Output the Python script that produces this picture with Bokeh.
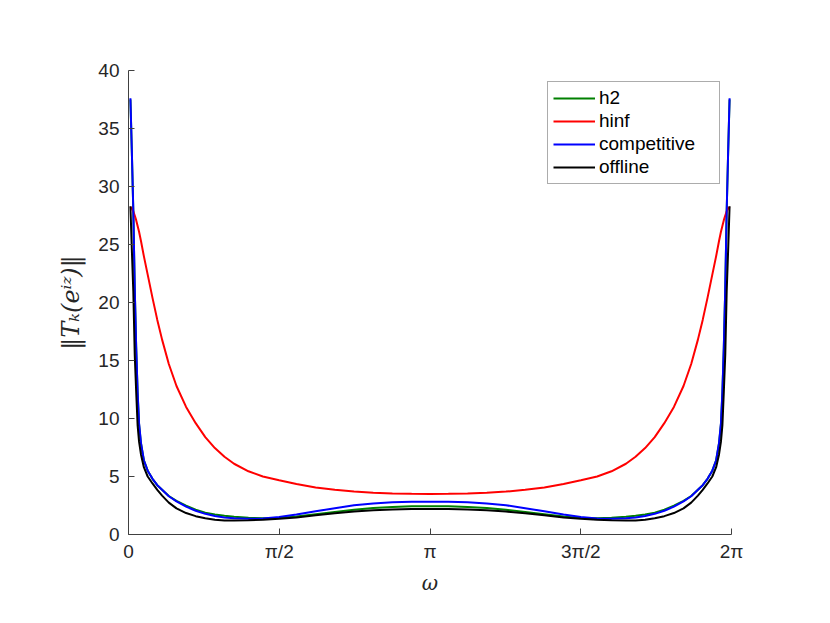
from math import pi
from bokeh.plotting import figure
from bokeh.models import Range1d, FixedTicker, Legend, LegendItem
from bokeh.embed import file_html
from bokeh.resources import INLINE

# frequency grid (rad)
omega = [0.02, 0.035, 0.05, 0.065, 0.08, 0.095, 0.11, 0.13, 0.16, 0.20, 0.25, 0.30,
         0.35, 0.42, 0.50, 0.60, 0.70, 0.80, 0.90, 1.0, 1.1, 1.25, 1.4, 1.57, 1.75,
         1.95, 2.15, 2.35, 2.55, 2.75, 2.95, 3.1416,
         3.3332, 3.5332, 3.7332, 3.9332, 4.1332, 4.3332, 4.5332, 4.7132, 4.8832,
         5.0332, 5.1832, 5.2832, 5.3832, 5.4832, 5.5832, 5.6832, 5.7832, 5.8632,
         5.9332, 5.9832, 6.0332, 6.0832, 6.1232, 6.1532, 6.1732, 6.1882, 6.2032,
         6.2182, 6.2332, 6.2482, 6.2632]

h2 = [37.5, 32.9, 27.9, 21.2, 16.1, 12.2, 9.5, 7.85, 6.4, 5.5, 4.8, 4.25, 3.85, 3.32,
      2.9, 2.48, 2.14, 1.88, 1.72, 1.61, 1.52, 1.44, 1.4, 1.42, 1.55, 1.75, 1.95, 2.13,
      2.28, 2.38, 2.43, 2.44,
      2.43, 2.38, 2.28, 2.13, 1.95, 1.75, 1.55, 1.42, 1.4, 1.44, 1.52, 1.61, 1.72,
      1.88, 2.14, 2.48, 2.9, 3.32, 3.85, 4.25, 4.8, 5.5, 6.4, 7.85, 9.5, 12.2, 16.1,
      21.2, 27.9, 32.9, 37.5]

hinf = [28.25, 28.1, 27.85, 27.5, 27.1, 26.6, 26.1, 25.3, 24.0, 22.4, 20.4, 18.5, 16.8,
        14.7, 12.8, 11.0, 9.6, 8.4, 7.45, 6.7, 6.1, 5.45, 5.0, 4.68, 4.35, 4.05, 3.85,
        3.7, 3.6, 3.54, 3.51, 3.5,
        3.51, 3.54, 3.6, 3.7, 3.85, 4.05, 4.35, 4.68, 5.0, 5.45, 6.1, 6.7, 7.45, 8.4,
        9.6, 11.0, 12.8, 14.7, 16.8, 18.5, 20.4, 22.4, 24.0, 25.3, 26.1, 26.6, 27.1,
        27.5, 27.85, 28.1, 28.25]

competitive = [37.6, 33.0, 28.0, 21.3, 16.2, 12.3, 9.6, 7.9, 6.4, 5.5, 4.8, 4.25, 3.85,
               3.3, 2.85, 2.4, 2.05, 1.78, 1.6, 1.47, 1.4, 1.36, 1.37, 1.5, 1.72, 2.0,
               2.27, 2.52, 2.68, 2.78, 2.82, 2.83,
               2.82, 2.78, 2.68, 2.52, 2.27, 2.0, 1.72, 1.5, 1.37, 1.36, 1.4, 1.47, 1.6,
               1.78, 2.05, 2.4, 2.85, 3.3, 3.85, 4.25, 4.8, 5.5, 6.4, 7.9, 9.6, 12.3,
               16.2, 21.3, 28.0, 33.0, 37.6]

offline = [28.3, 24.5, 21.0, 15.5, 12.3, 9.4, 8.0, 6.9, 5.8, 5.0, 4.4, 3.85, 3.35, 2.75,
           2.25, 1.85, 1.58, 1.4, 1.28, 1.21, 1.2, 1.23, 1.28, 1.36, 1.47, 1.66, 1.84,
           1.98, 2.08, 2.16, 2.2, 2.2,
           2.2, 2.16, 2.08, 1.98, 1.84, 1.66, 1.47, 1.36, 1.28, 1.23, 1.2, 1.21, 1.28,
           1.4, 1.58, 1.85, 2.25, 2.75, 3.35, 3.85, 4.4, 5.0, 5.8, 6.9, 8.0, 9.4, 12.3,
           15.5, 21.0, 24.5, 28.3]

series_names = ["h2", "hinf", "competitive", "offline"]
series_colors = ["#008000", "#ff0000", "#0000ff", "#000000"]
series_values = [h2, hinf, competitive, offline]

x_ticks = [0, pi / 2, pi, 3 * pi / 2, 2 * pi]
x_tick_labels = ["0", "π/2", "π", "3π/2", "2π"]
y_ticks = [0, 5, 10, 15, 20, 25, 30, 35, 40]

p = figure(frame_width=603, frame_height=464,
           min_border_left=128, min_border_right=83,
           min_border_top=70, min_border_bottom=73,
           x_range=Range1d(0, 2 * pi), y_range=Range1d(0, 40),
           output_backend="svg", toolbar_location=None)

p.outline_line_color = None
p.grid.visible = False
p.background_fill_color = "white"
p.border_fill_color = "white"

items = []
for name, col, vals in zip(series_names, series_colors, series_values):
    r = p.line(omega, vals, line_color=col, line_width=2)
    items.append(LegendItem(label=name, renderers=[r]))

for ax in (p.xaxis[0], p.yaxis[0]):
    ax.axis_line_color = "#404040"
    ax.axis_line_width = 1
    ax.major_tick_line_color = "#404040"
    ax.major_tick_in = 6
    ax.major_tick_out = 0
    ax.minor_tick_line_color = None
    ax.major_label_text_font = "Liberation Sans"
    ax.major_label_text_font_size = "19px"
    ax.major_label_text_color = "#262626"
    ax.axis_label_text_color = "#262626"
    ax.axis_label_text_font = "DejaVu Serif"
    ax.axis_label_text_font_style = "italic"

p.xaxis.ticker = FixedTicker(ticks=x_ticks)
p.xaxis.major_label_overrides = {t: l for t, l in zip(x_ticks, x_tick_labels)}
p.xaxis.major_label_standoff = 6
p.xaxis.axis_label = "ω"
p.xaxis.axis_label_text_font_size = "20px"
p.xaxis.axis_label_standoff = 6

p.yaxis.ticker = FixedTicker(ticks=y_ticks)
p.yaxis.major_label_standoff = 9
p.yaxis.axis_label = "‖Tₖ(eⁱᶻ)‖"
p.yaxis.axis_label_text_font_size = "24px"
p.yaxis.axis_label_standoff = 10

legend = Legend(items=items, location="top_right")
legend.margin = 11
legend.padding = 5
legend.spacing = 1
legend.glyph_width = 42
legend.glyph_height = 20
legend.label_height = 20
legend.label_width = 115
legend.label_standoff = 4
legend.label_text_font = "Liberation Sans"
legend.label_text_font_size = "19px"
legend.label_text_color = "#000000"
legend.border_line_color = "#595959"
legend.border_line_width = 1
legend.background_fill_color = "white"
legend.background_fill_alpha = 1
p.add_layout(legend)

open("out.html", "w").write(file_html(p, INLINE))
